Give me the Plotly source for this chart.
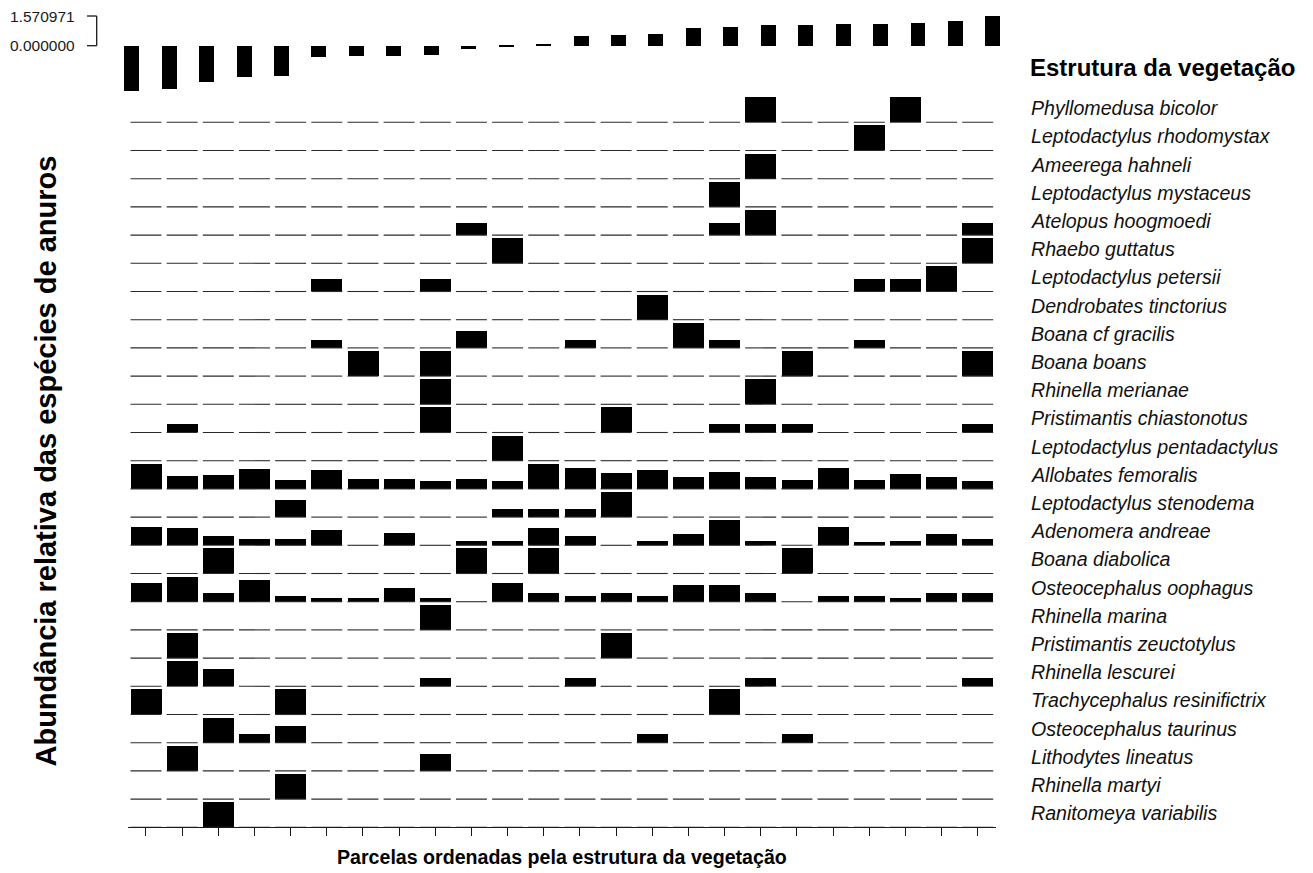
import plotly.graph_objects as go

# page is 1313x873; the html body has an 8px margin, so the figure fills the rest
PAGE_W, PAGE_H = 1313, 873
OFF = 8
W, H = PAGE_W - OFF, PAGE_H - OFF

# ---------------- data ----------------
parcels = list(range(1, 25))

vegetation_structure = [-2.38, -2.31, -1.94, -1.67, -1.59, -0.58, -0.53, -0.53, -0.49, -0.17,
                        -0.03, 0.08, 0.51, 0.55, 0.62, 0.92, 1.01, 1.11, 1.11, 1.15,
                        1.15, 1.22, 1.31, 1.570971]

species = [
    "Phyllomedusa bicolor", "Leptodactylus rhodomystax", "Ameerega hahneli",
    "Leptodactylus mystaceus", "Atelopus hoogmoedi", "Rhaebo guttatus",
    "Leptodactylus petersii", "Dendrobates tinctorius", "Boana cf gracilis",
    "Boana boans", "Rhinella merianae", "Pristimantis chiastonotus",
    "Leptodactylus pentadactylus", "Allobates femoralis", "Leptodactylus stenodema",
    "Adenomera andreae", "Boana diabolica", "Osteocephalus oophagus",
    "Rhinella marina", "Pristimantis zeuctotylus", "Rhinella lescurei",
    "Trachycephalus resinifictrix", "Osteocephalus taurinus", "Lithodytes lineatus",
    "Rhinella martyi", "Ranitomeya variabilis",
]

# relative abundance per parcel (24 parcels, ordered by vegetation structure)
phyllomedusa_bicolor      = [0, 0, 0, 0, 0, 0, 0, 0, 0, 0, 0, 0, 0, 0, 0, 0, 0, 1, 0, 0, 0, 1, 0, 0]
leptodactylus_rhodomystax = [0, 0, 0, 0, 0, 0, 0, 0, 0, 0, 0, 0, 0, 0, 0, 0, 0, 0, 0, 0, 1, 0, 0, 0]
ameerega_hahneli          = [0, 0, 0, 0, 0, 0, 0, 0, 0, 0, 0, 0, 0, 0, 0, 0, 0, 1, 0, 0, 0, 0, 0, 0]
leptodactylus_mystaceus   = [0, 0, 0, 0, 0, 0, 0, 0, 0, 0, 0, 0, 0, 0, 0, 0, 1, 0, 0, 0, 0, 0, 0, 0]
atelopus_hoogmoedi        = [0, 0, 0, 0, 0, 0, 0, 0, 0, 0.5, 0, 0, 0, 0, 0, 0, 0.5, 1, 0, 0, 0, 0, 0, 0.5]
rhaebo_guttatus           = [0, 0, 0, 0, 0, 0, 0, 0, 0, 0, 1, 0, 0, 0, 0, 0, 0, 0, 0, 0, 0, 0, 0, 1]
leptodactylus_petersii    = [0, 0, 0, 0, 0, 0.5, 0, 0, 0.5, 0, 0, 0, 0, 0, 0, 0, 0, 0, 0, 0, 0.5, 0.5, 1, 0]
dendrobates_tinctorius    = [0, 0, 0, 0, 0, 0, 0, 0, 0, 0, 0, 0, 0, 0, 1, 0, 0, 0, 0, 0, 0, 0, 0, 0]
boana_cf_gracilis         = [0, 0, 0, 0, 0, 0.33, 0, 0, 0, 0.67, 0, 0, 0.33, 0, 0, 1, 0.33, 0, 0, 0, 0.33, 0, 0, 0]
boana_boans               = [0, 0, 0, 0, 0, 0, 1, 0, 1, 0, 0, 0, 0, 0, 0, 0, 0, 0, 1, 0, 0, 0, 0, 1]
rhinella_merianae         = [0, 0, 0, 0, 0, 0, 0, 0, 1, 0, 0, 0, 0, 0, 0, 0, 0, 1, 0, 0, 0, 0, 0, 0]
pristimantis_chiastonotus = [0, 0.33, 0, 0, 0, 0, 0, 0, 1, 0, 0, 0, 0, 1, 0, 0, 0.33, 0.33, 0.33, 0, 0, 0, 0, 0.33]
leptodactylus_pentadactylus = [0, 0, 0, 0, 0, 0, 0, 0, 0, 0, 1, 0, 0, 0, 0, 0, 0, 0, 0, 0, 0, 0, 0, 0]
allobates_femoralis       = [1.0, 0.52, 0.56, 0.8, 0.36, 0.75, 0.4, 0.4, 0.33, 0.4, 0.32, 1.0,
                             0.85, 0.65, 0.75, 0.48, 0.69, 0.48, 0.36, 0.85, 0.36, 0.61, 0.48, 0.32]
leptodactylus_stenodema   = [0, 0, 0, 0, 0.67, 0, 0, 0, 0, 0, 0.33, 0.33, 0.33, 1, 0, 0, 0, 0, 0, 0, 0, 0, 0, 0]
adenomera_andreae         = [0.73, 0.67, 0.35, 0.25, 0.25, 0.59, 0, 0.5, 0, 0.17, 0.17, 0.67,
                             0.35, 0, 0.17, 0.43, 1.0, 0.17, 0, 0.73, 0.12, 0.17, 0.43, 0.25]
boana_diabolica           = [0, 0, 1, 0, 0, 0, 0, 0, 0, 1, 0, 1, 0, 0, 0, 0, 0, 0, 1, 0, 0, 0, 0, 0]
osteocephalus_oophagus    = [0.76, 1.0, 0.35, 0.87, 0.24, 0.13, 0.13, 0.55, 0.13, 0, 0.76, 0.35,
                             0.24, 0.35, 0.24, 0.67, 0.67, 0.35, 0, 0.24, 0.24, 0.13, 0.35, 0.35]
rhinella_marina           = [0, 0, 0, 0, 0, 0, 0, 0, 1, 0, 0, 0, 0, 0, 0, 0, 0, 0, 0, 0, 0, 0, 0, 0]
pristimantis_zeuctotylus  = [0, 1, 0, 0, 0, 0, 0, 0, 0, 0, 0, 0, 0, 1, 0, 0, 0, 0, 0, 0, 0, 0, 0, 0]
rhinella_lescurei         = [0, 1, 0.67, 0, 0, 0, 0, 0, 0.33, 0, 0, 0, 0.33, 0, 0, 0, 0, 0.33, 0, 0, 0, 0, 0, 0.33]
trachycephalus_resinifictrix = [1, 0, 0, 0, 1, 0, 0, 0, 0, 0, 0, 0, 0, 0, 0, 0, 1, 0, 0, 0, 0, 0, 0, 0]
osteocephalus_taurinus    = [0, 0, 1, 0.33, 0.67, 0, 0, 0, 0, 0, 0, 0, 0, 0, 0.33, 0, 0, 0, 0.33, 0, 0, 0, 0, 0]
lithodytes_lineatus       = [0, 1, 0, 0, 0, 0, 0, 0, 0.67, 0, 0, 0, 0, 0, 0, 0, 0, 0, 0, 0, 0, 0, 0, 0]
rhinella_martyi           = [0, 0, 0, 0, 1, 0, 0, 0, 0, 0, 0, 0, 0, 0, 0, 0, 0, 0, 0, 0, 0, 0, 0, 0]
ranitomeya_variabilis     = [0, 0, 1, 0, 0, 0, 0, 0, 0, 0, 0, 0, 0, 0, 0, 0, 0, 0, 0, 0, 0, 0, 0, 0]

abundance_rows = [
    phyllomedusa_bicolor, leptodactylus_rhodomystax, ameerega_hahneli, leptodactylus_mystaceus,
    atelopus_hoogmoedi, rhaebo_guttatus, leptodactylus_petersii, dendrobates_tinctorius,
    boana_cf_gracilis, boana_boans, rhinella_merianae, pristimantis_chiastonotus,
    leptodactylus_pentadactylus, allobates_femoralis, leptodactylus_stenodema, adenomera_andreae,
    boana_diabolica, osteocephalus_oophagus, rhinella_marina, pristimantis_zeuctotylus,
    rhinella_lescurei, trachycephalus_resinifictrix, osteocephalus_taurinus, lithodytes_lineatus,
    rhinella_martyi, ranitomeya_variabilis,
]

x_title = "Parcelas ordenadas pela estrutura da vegetação"
y_title = "Abundância relativa das espécies de anuros"
top_title = "Estrutura da vegetação"

# ---------------- layout helpers ----------------
FONT = "Liberation Sans, Arial, Helvetica, sans-serif"
n_rows = len(species)
BAR_SCALE = 0.8865      # fraction of a row used by a full bar
CELL_W = 0.857          # width of each cell (bar / baseline segment)


def fx(p):
    """page pixel x -> paper fraction"""
    return (p - OFF) / W


def fy(p):
    """page pixel y -> paper fraction"""
    return 1 - (p - OFF) / H


fig = go.Figure()

# top panel: vegetation structure
fig.add_trace(go.Bar(
    x=parcels, y=vegetation_structure, xaxis="x", yaxis="y",
    width=0.4, marker=dict(color="black", line=dict(width=0)),
    name=top_title, showlegend=False, hoverinfo="x+y",
))

# baseline segments of each species row
seg_x, seg_y = [], []
for r in range(n_rows):
    base = n_rows - 1 - r
    for p in parcels:
        seg_x += [p - CELL_W / 2, p + CELL_W / 2, None]
        seg_y += [base, base, None]
fig.add_trace(go.Scatter(
    x=seg_x, y=seg_y, xaxis="x2", yaxis="y2", mode="lines",
    line=dict(color="#2a2a2a", width=1.1), hoverinfo="skip", showlegend=False,
))

# abundance bars
for r, (name, vals) in enumerate(zip(species, abundance_rows)):
    base = n_rows - 1 - r
    xs = [p for p, v in zip(parcels, vals) if v > 0]
    ys = [v * BAR_SCALE for v in vals if v > 0]
    fig.add_trace(go.Bar(
        x=xs, y=ys, base=base, xaxis="x2", yaxis="y2", width=CELL_W,
        marker=dict(color="black", line=dict(width=0)),
        name=name, showlegend=False,
    ))

annotations = []
for r, name in enumerate(species):
    annotations.append(dict(
        text=f"<i>{name}</i>", x=fx(1029), xref="paper", xanchor="left",
        y=n_rows - 1 - r + 0.5, yref="y2", yanchor="middle", showarrow=False,
        font=dict(family=FONT, size=19.6, color="#111111"),
    ))

annotations.append(dict(
    text=f"<b>{top_title}</b>", x=fx(1028), xref="paper", xanchor="left",
    y=fy(68), yref="paper", yanchor="middle", showarrow=False,
    font=dict(family=FONT, size=24, color="black"),
))
annotations.append(dict(
    text=f"<b>{x_title}</b>", x=fx(561.8), xref="paper", xanchor="center",
    y=fy(856.5), yref="paper", yanchor="middle", showarrow=False,
    font=dict(family=FONT, size=19.6, color="black"),
))
annotations.append(dict(
    text=f"<b>{y_title}</b>", x=fx(45.5), xref="paper", xanchor="center",
    y=fy(461), yref="paper", yanchor="middle", showarrow=False, textangle=-90,
    font=dict(family=FONT, size=29, color="black"),
))

# scale bracket of the top panel
vmax = max(vegetation_structure)
for val in (vmax, 0.0):
    annotations.append(dict(
        text=f"{val:.6f}", x=fx(77), xref="paper", xanchor="right",
        y=val, yref="y", yanchor="middle", showarrow=False,
        font=dict(family=FONT, size=15.5, color="#1a1a1a"),
    ))

shapes = [
    dict(type="line", xref="paper", yref="y", x0=fx(96.7), x1=fx(96.7), y0=0, y1=vmax,
         line=dict(color="#1a1a1a", width=1.3)),
    dict(type="line", xref="paper", yref="y", x0=fx(87), x1=fx(96.7), y0=0, y1=0,
         line=dict(color="#1a1a1a", width=1.3)),
    dict(type="line", xref="paper", yref="y", x0=fx(87), x1=fx(96.7), y0=vmax, y1=vmax,
         line=dict(color="#1a1a1a", width=1.3)),
]

fig.update_layout(
    width=W, height=H,
    margin=dict(l=0, r=0, t=0, b=0),
    paper_bgcolor="white", plot_bgcolor="white",
    barmode="overlay", bargap=0,
    showlegend=False,
    font=dict(family=FONT, color="black"),
    xaxis=dict(domain=[fx(112.6), fx(1011.2)], range=[0.5, 24.5], anchor="y",
               visible=False, fixedrange=True),
    yaxis=dict(domain=[fy(93), fy(12)], range=[-2.503, 1.783], anchor="x",
               visible=False, fixedrange=True),
    xaxis2=dict(domain=[fx(127.9), fx(995.8)], range=[0.5, 24.5], anchor="y2",
                showline=True, linecolor="#1a1a1a", linewidth=1.2,
                ticks="outside", ticklen=8, tickwidth=1.1, tickcolor="#1a1a1a",
                tickvals=parcels, showticklabels=False,
                showgrid=False, zeroline=False, fixedrange=True),
    yaxis2=dict(domain=[fy(827.3), fy(94.1)], range=[0, n_rows], anchor="x2",
                visible=False, fixedrange=True),
    annotations=annotations,
    shapes=shapes,
)

fig.write_html("out.html")
